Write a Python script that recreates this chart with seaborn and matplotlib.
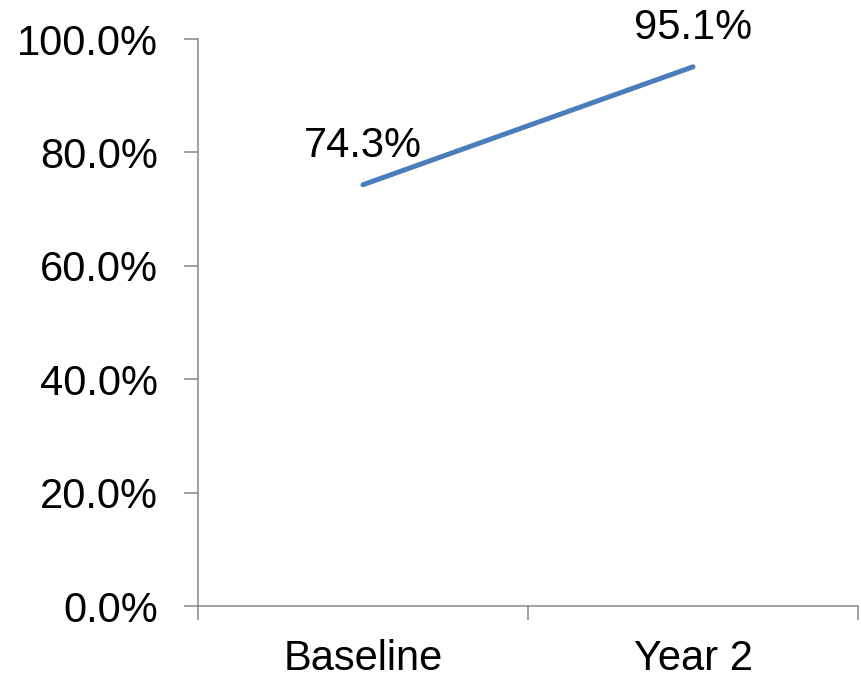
import matplotlib
matplotlib.use('Agg')
import matplotlib.pyplot as plt
from matplotlib.ticker import PercentFormatter, FixedLocator
import seaborn as sns

# Data
categories = ['Baseline', 'Year 2']
values = [0.743, 0.951]

LINE_BLUE = '#4A7EBB'
AXIS_GRAY = '#868686'

sns.set_style('white')
plt.rcParams['font.family'] = ['Liberation Sans', 'DejaVu Sans']

fig = plt.figure(figsize=(8.62, 6.75), dpi=100, facecolor='white')
ax = fig.add_axes([0.2297, 0.1022, 0.7657, 0.8400])

sns.lineplot(x=categories, y=values, color=LINE_BLUE, linewidth=3.6,
             solid_capstyle='round', ax=ax, legend=False)

# Dataetiketter over punktene
for i, v in enumerate(values):
    ax.annotate(f'{v * 100:.1f}%', xy=(i, v), xytext=(0, 20), textcoords='offset points',
                ha='center', va='baseline', fontsize=30, color='black')

ax.set_xlim(-0.5, 1.5)
ax.set_ylim(0, 1.0)
ax.set_yticks([0, 0.2, 0.4, 0.6, 0.8, 1.0])
ax.yaxis.set_major_formatter(PercentFormatter(1.0, decimals=1))

# Kategoriakse: etiketter midt i, tikk på grensene
ax.set_xticks([0, 1])
ax.set_xticklabels(categories)
ax.xaxis.set_minor_locator(FixedLocator([-0.5, 0.5, 1.5]))
ax.tick_params(axis='x', which='major', bottom=True, length=0, pad=24,
               labelsize=30, labelcolor='black')
ax.tick_params(axis='x', which='minor', bottom=True, length=10, width=1.1,
               color=AXIS_GRAY, direction='out')
ax.tick_params(axis='y', which='major', left=True, length=10, width=1.1, color=AXIS_GRAY,
               direction='out', pad=19, labelsize=30, labelcolor='black')

for side in ['top', 'right']:
    ax.spines[side].set_visible(False)
for side in ['left', 'bottom']:
    ax.spines[side].set_color(AXIS_GRAY)
    ax.spines[side].set_linewidth(1.1)

ax.set_xlabel('')
ax.set_ylabel('')
ax.grid(False)

plt.savefig('out.png', dpi=100, facecolor='white')
